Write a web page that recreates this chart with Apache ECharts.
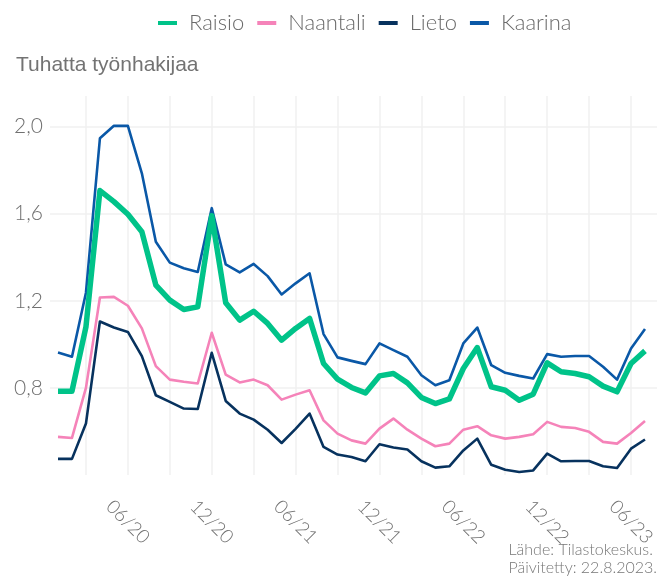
<!DOCTYPE html>
<html>
<head>
<meta charset="utf-8">
<script src="https://cdn.jsdelivr.net/npm/echarts/dist/echarts.min.js"></script>
<style>
  html, body { margin: 0; padding: 0; background: #fff; }
  #chart { width: 665px; height: 579px; }
</style>
</head>
<body>
<div id="chart"></div>
<script>
// kuukaudet 01/20 - 07/23
var months = ['01/20','02/20','03/20','04/20','05/20','06/20','07/20','08/20','09/20','10/20','11/20','12/20',
              '01/21','02/21','03/21','04/21','05/21','06/21','07/21','08/21','09/21','10/21','11/21','12/21',
              '01/22','02/22','03/22','04/22','05/22','06/22','07/22','08/22','09/22','10/22','11/22','12/22',
              '01/23','02/23','03/23','04/23','05/23','06/23','07/23'];

// tuhatta työnhakijaa
var raisio   = [0.785,0.785,1.080,1.706,1.655,1.597,1.517,1.272,1.203,1.160,1.172,1.590,
                1.191,1.111,1.152,1.096,1.019,1.073,1.119,0.912,0.840,0.802,0.777,0.855,
                0.866,0.823,0.756,0.728,0.749,0.889,0.985,0.805,0.789,0.743,0.771,0.915,
                0.874,0.866,0.851,0.808,0.782,0.912,0.970];
var naantali = [0.575,0.570,0.800,1.215,1.218,1.177,1.073,0.900,0.838,0.828,0.820,1.053,
                0.861,0.825,0.838,0.812,0.746,0.769,0.789,0.651,0.590,0.559,0.544,0.613,
                0.659,0.608,0.567,0.532,0.544,0.608,0.624,0.582,0.567,0.575,0.587,0.644,
                0.621,0.616,0.598,0.552,0.544,0.593,0.648];
var lieto    = [0.474,0.474,0.636,1.105,1.077,1.057,0.946,0.766,0.736,0.705,0.703,0.961,
                0.740,0.682,0.654,0.608,0.547,0.612,0.682,0.529,0.494,0.483,0.463,0.541,
                0.526,0.517,0.463,0.434,0.440,0.513,0.567,0.447,0.424,0.414,0.421,0.498,
                0.463,0.464,0.464,0.440,0.432,0.521,0.563];
var kaarina  = [0.962,0.943,1.237,1.946,2.003,2.003,1.785,1.471,1.375,1.349,1.332,1.625,
                1.367,1.330,1.369,1.313,1.229,1.280,1.326,1.047,0.940,0.924,0.909,1.004,
                0.973,0.943,0.858,0.812,0.835,1.004,1.077,0.904,0.869,0.855,0.843,0.955,
                0.943,0.946,0.946,0.897,0.838,0.981,1.070];

var yTicks = [0.8, 1.2, 1.6, 2.0];

var font = 'Lato';
var gray = '#707070';
var gridColor = '#f0f0f0';

function lineSerie(name, data, color, width, z) {
    return {
        name: name,
        type: 'line',
        xAxisIndex: 1,
        yAxisIndex: 1,
        data: data,
        symbol: 'none',
        z: z,
        lineStyle: { color: color, width: width, join: 'round' },
        itemStyle: { color: color }
    };
}

var chart = echarts.init(document.getElementById('chart'));
var option = {
    backgroundColor: '#fff',
    animation: false,
    title: {
        text: 'Tuhatta työnhakijaa',
        left: 11,
        top: 50,
        textStyle: { fontFamily: 'Liberation Sans', fontSize: 21, fontWeight: 'normal', color: '#737373' }
    },
    legend: {
        left: 153,
        top: 7,
        icon: 'rect',
        itemWidth: 19,
        itemHeight: 4,
        itemGap: 13,
        data: ['Raisio', 'Naantali', 'Lieto', 'Kaarina'],
        textStyle: { fontFamily: font, fontSize: 22, fontWeight: 300, color: '#6a6a6a', padding: [0, 0, 0, 7] }
    },
    graphic: [{
        type: 'text',
        right: 8,
        top: 541,
        style: {
            text: 'Lähde: Tilastokeskus.\nPäivitetty: 22.8.2023.',
            font: '300 16px Lato',
            fill: '#777',
            align: 'right',
            lineHeight: 18
        }
    }],
    grid: [
        { left: 50, right: 8, top: 96, bottom: 104 },
        { left: 58, right: 20, top: 96, bottom: 104 }
    ],
    xAxis: [
        { type: 'value', gridIndex: 0, show: false, min: 0, max: 1 },
        {
            type: 'category',
            gridIndex: 1,
            data: months,
            boundaryGap: false,
            axisLine: { show: false },
            axisTick: { show: false },
            splitLine: {
                show: true,
                interval: function (i) { return i % 3 === 2; },
                lineStyle: { color: gridColor, width: 1.5 }
            },
            axisLabel: {
                interval: function (i) { return i % 6 === 5; },
                rotate: -45,
                align: 'center',
                verticalAlign: 'middle',
                margin: 47,
                fontFamily: font,
                fontWeight: 300,
                fontSize: 19,
                color: gray
            }
        }
    ],
    yAxis: [
        {
            type: 'value',
            gridIndex: 0,
            min: 0.4,
            max: 2.14,
            interval: 0.4,
            axisLine: { show: false },
            axisTick: { show: false },
            splitLine: {
                show: true,
                lineStyle: { color: ['transparent', gridColor, gridColor, gridColor, gridColor], width: 1.5 }
            },
            axisLabel: {
                margin: 7,
                fontFamily: font,
                fontWeight: 300,
                fontSize: 21,
                color: gray,
                formatter: function (v) {
                    var ok = yTicks.some(function (t) { return Math.abs(t - v) < 1e-6; });
                    return ok ? v.toFixed(1).replace('.', ',') : '';
                }
            }
        },
        { type: 'value', gridIndex: 1, min: 0.4, max: 2.14, interval: 0.4, show: false, splitLine: { show: false } }
    ],
    series: [
        lineSerie('Kaarina', kaarina, '#0a58a7', 2.6, 2),
        lineSerie('Lieto', lieto, '#07325e', 2.6, 3),
        lineSerie('Naantali', naantali, '#f583b9', 2.6, 4),
        lineSerie('Raisio', raisio, '#00c389', 5.5, 5)
    ]
};
chart.setOption(option);
</script>
</body>
</html>
